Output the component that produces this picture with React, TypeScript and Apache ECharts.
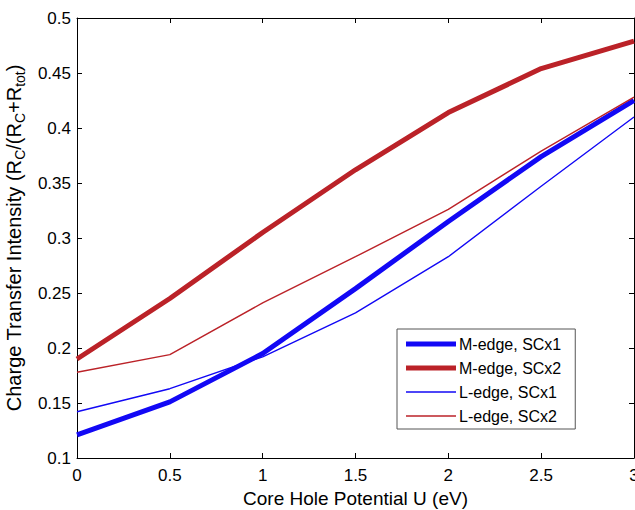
import React, { useEffect, useRef } from "react";
import * as echarts from "echarts";

const xValues = [0, 0.5, 1, 1.5, 2, 2.5, 3];
const mEdgeSC1 = [0.121, 0.151, 0.195, 0.254, 0.315, 0.374, 0.425];
const mEdgeSC2 = [0.19, 0.245, 0.305, 0.362, 0.414, 0.454, 0.479];
const lEdgeSC1 = [0.142, 0.163, 0.192, 0.232, 0.283, 0.347, 0.41];
const lEdgeSC2 = [0.178, 0.194, 0.241, 0.283, 0.326, 0.379, 0.428];
const seriesNames = ["M-edge, SCx1", "M-edge, SCx2", "L-edge, SCx1", "L-edge, SCx2"];

const BLUE = "#1208f5";
const RED = "#bb2228";
const FONT = "Liberation Sans, Arial, sans-serif";

export default function App() {
  const ref = useRef<HTMLDivElement>(null);
  useEffect(() => {
    document.body.style.margin = "0";
    const chart = echarts.init(ref.current!, null, { renderer: "svg" });
    const pairs = (ys: number[]) => xValues.map((x, i) => [x, ys[i]]);
    const thick = "path://M0,0 L50,0 L50,5 L0,5 Z";
    const thin = "path://M0,0 L50,0 L50,1.4 L0,1.4 Z";
    const axisCommon = {
      axisLine: { show: true, onZero: false, lineStyle: { color: "#000", width: 1 } },
      axisTick: { show: true, inside: true, length: 5, lineStyle: { color: "#000" } },
      splitLine: { show: false },
    };
    chart.setOption({
      animation: false,
      textStyle: { fontFamily: FONT },
      grid: { left: 77, right: 1, top: 18, bottom: 52, containLabel: false, outerBoundsMode: "none" },
      legend: {
        orient: "vertical",
        left: 397,
        top: 329,
        itemWidth: 50,
        itemHeight: 14,
        itemGap: 8,
        padding: [7, 14, 5, 9],
        backgroundColor: "#fff",
        borderColor: "#555",
        borderWidth: 1,
        borderRadius: 0,
        textStyle: { fontSize: 16, color: "#000", fontFamily: FONT, padding: [0, 0, 0, -2] },
        itemStyle: { borderWidth: 0 },
        data: [
          { name: seriesNames[0], icon: thick },
          { name: seriesNames[1], icon: thick },
          { name: seriesNames[2], icon: thin },
          { name: seriesNames[3], icon: thin },
        ],
      },
      xAxis: [
        {
          type: "value",
          min: 0,
          max: 3,
          interval: 0.5,
          position: "bottom",
          ...axisCommon,
          axisLabel: { fontSize: 17, color: "#000", margin: 9, fontFamily: FONT },
          name: "Core Hole Potential U (eV)",
          nameLocation: "middle",
          nameGap: 29,
          nameTextStyle: { fontSize: 19, color: "#000", fontFamily: FONT },
        },
        {
          type: "value",
          min: 0,
          max: 3,
          interval: 0.5,
          position: "top",
          ...axisCommon,
          axisLabel: { show: false },
        },
      ],
      yAxis: [
        {
          type: "value",
          min: 0.1,
          max: 0.5,
          interval: 0.05,
          position: "left",
          ...axisCommon,
          axisLabel: { fontSize: 17, color: "#000", margin: 6, fontFamily: FONT },
          name: "Charge Transfer Intensity (R{sub|C}/(R{sub|C}+R{sub|tot})",
          nameLocation: "middle",
          nameGap: 39,
          nameTextStyle: {
            fontSize: 20,
            color: "#000",
            fontFamily: FONT,
            lineHeight: 18,
            verticalAlign: "middle",
            rich: {
              sub: { fontSize: 14, lineHeight: 26, verticalAlign: "bottom", fontFamily: FONT, color: "#000" },
            },
          },
        },
        {
          type: "value",
          min: 0.1,
          max: 0.5,
          interval: 0.05,
          position: "right",
          ...axisCommon,
          axisLabel: { show: false },
        },
      ],
      series: [
        { name: seriesNames[0], type: "line", data: pairs(mEdgeSC1), showSymbol: false, symbol: "none", color: BLUE, lineStyle: { color: BLUE, width: 5 } },
        { name: seriesNames[1], type: "line", data: pairs(mEdgeSC2), showSymbol: false, symbol: "none", color: RED, lineStyle: { color: RED, width: 5 } },
        { name: seriesNames[2], type: "line", data: pairs(lEdgeSC1), showSymbol: false, symbol: "none", color: BLUE, lineStyle: { color: BLUE, width: 1.4 } },
        { name: seriesNames[3], type: "line", data: pairs(lEdgeSC2), showSymbol: false, symbol: "none", color: RED, lineStyle: { color: RED, width: 1.4 } },
      ],
    });
    return () => chart.dispose();
  }, []);
  return <div ref={ref} style={{ width: 635, height: 510 }} />;
}
